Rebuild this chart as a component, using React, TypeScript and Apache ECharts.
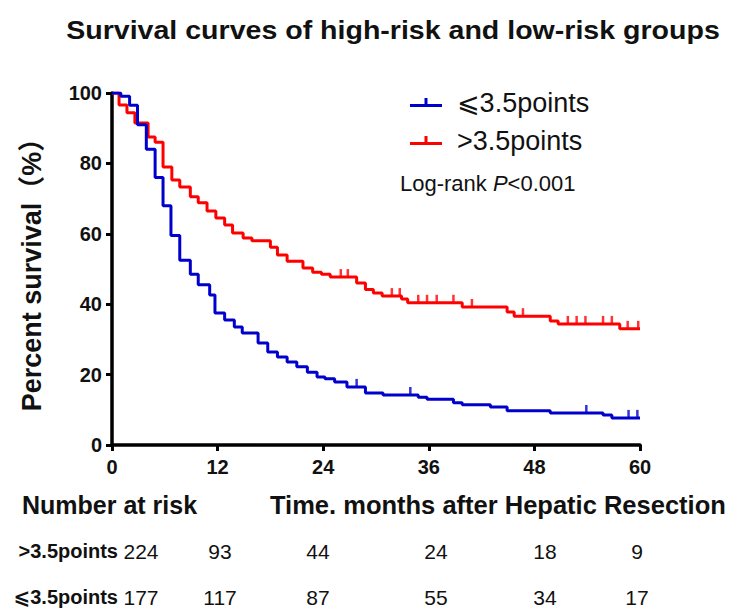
import React, { useEffect, useRef } from "react";
import * as echarts from "echarts";

// ---------- data ----------
const TITLE = "Survival curves of high-risk and low-risk groups";
const LOW_NAME = "⩽3.5points";
const HIGH_NAME = ">3.5points";
const Y_NAME = "Percent survival（%）";
const X_NAME = "Time. months after Hepatic Resection";
const RISK_TITLE = "Number at risk";
const LOGRANK = "Log-rank {i|P}<0.001";

const xTickValues = [0, 12, 24, 36, 48, 60];
const yTickValues = [0, 20, 40, 60, 80, 100];

// ⩽3.5 points (blue)
const lowTimes = [0, 1.0, 2.0, 2.9, 3.9, 4.9, 5.8, 6.7, 7.7, 8.9, 9.8, 11.1, 11.7, 12.8, 13.9, 14.8, 16.6, 17.7, 18.8, 19.9, 21.0, 22.2, 23.3, 24.2, 25.3, 26.7, 28.8, 30.8, 34.8, 35.8, 38.8, 39.8, 43.0, 44.9, 49.8, 55.8, 56.8, 60];
const lowSurvival = [100, 99.1, 96.5, 91, 84, 76, 68, 59.5, 52.5, 48.5, 45.5, 42.6, 37.5, 35.5, 33.5, 31.8, 29, 26.4, 25, 23.6, 22.2, 20.7, 19.3, 18.8, 17.9, 16.5, 14.8, 14.2, 13.6, 13.0, 12.0, 11.4, 10.8, 9.7, 9.1, 8.5, 7.7, 7.7];
const lowCensorTimes = [27.8, 33.9, 53.9, 58.7, 59.7];
const lowCensorSurvival = [16.5, 14.2, 9.1, 7.7, 7.7];

// >3.5 points (red)
const highTimes = [0, 0.8, 1.7, 2.6, 4.1, 4.9, 5.8, 6.8, 7.7, 8.9, 9.8, 10.8, 11.8, 12.8, 13.7, 14.9, 15.9, 18.0, 18.8, 19.9, 21.7, 22.8, 23.8, 24.8, 27.8, 28.8, 29.7, 30.7, 32.9, 33.6, 39.8, 44.9, 45.7, 49.8, 50.7, 57.7, 60];
const highSurvival = [100, 96.6, 94.4, 91.5, 87.5, 86, 79, 75.3, 73.3, 70.5, 68.8, 66.5, 64.5, 62.5, 60.2, 58.8, 58, 56.2, 54, 52.2, 50.3, 49.1, 48.5, 47.7, 46, 44.2, 43.2, 42.3, 41.5, 40.4, 39.2, 37.8, 36.6, 35.2, 34.4, 33, 33];
const highCensorTimes = [26.0, 26.8, 31.8, 32.7, 34.8, 35.8, 36.9, 38.8, 40.9, 46.7, 51.8, 52.8, 53.8, 55.8, 56.8, 58.6, 59.8];
const highCensorSurvival = [47.7, 47.7, 42.3, 42.3, 40.4, 40.4, 40.4, 40.4, 39.2, 36.6, 34.4, 34.4, 34.4, 34.4, 34.4, 33, 33];

// number at risk
const riskHigh = ["224", "93", "44", "24", "18", "9"];
const riskLow = ["177", "117", "87", "55", "34", "17"];

// ---------- layout / style (not data) ----------
const FONT = 'Arial, "Liberation Sans", "DejaVu Sans", "Noto Sans CJK SC", sans-serif';
const BLUE = "#0000CC";
const RED = "#FF0000";
const riskColX = [141, 220, 318, 436, 545, 637];

const zip = (a: number[], b: number[]) => a.map((v, i) => [v, b[i]]);

export default function App() {
  const ref = useRef<HTMLDivElement>(null);

  useEffect(() => {
    document.body.style.margin = "0";
    if (!ref.current) return;
    const chart = echarts.init(ref.current, undefined, { renderer: "svg" });

    const legendIcon =
      "path://M0,6 L32,6 L32,9 L0,9 Z M14.5,0 L17.5,0 L17.5,6 L14.5,6 Z";

    const riskTexts: any[] = [];
    riskHigh.forEach((t, i) =>
      riskTexts.push({
        type: "text",
        x: riskColX[i],
        y: 551,
        style: { text: t, fontSize: 21, fontFamily: FONT, fill: "#111", align: "center", verticalAlign: "middle" },
      })
    );
    riskLow.forEach((t, i) =>
      riskTexts.push({
        type: "text",
        x: riskColX[i],
        y: 597,
        style: { text: t, fontSize: 21, fontFamily: FONT, fill: "#111", align: "center", verticalAlign: "middle" },
      })
    );

    const option: any = {
      animation: false,
      backgroundColor: "#fff",
      grid: { left: 112, right: 91, top: 93, bottom: 164, containLabel: false },
      xAxis: {
        type: "value",
        min: xTickValues[0],
        max: xTickValues[xTickValues.length - 1],
        interval: 12,
        axisLine: { show: true, onZero: false, lineStyle: { color: "#000", width: 3.5 } },
        axisTick: { show: true, length: 6, lineStyle: { color: "#000", width: 3 } },
        axisLabel: { fontSize: 20, fontWeight: "bold", color: "#111", fontFamily: FONT, margin: 12 },
        splitLine: { show: false },
      },
      yAxis: {
        type: "value",
        min: yTickValues[0],
        max: yTickValues[yTickValues.length - 1],
        interval: 20,
        axisLine: { show: true, onZero: false, lineStyle: { color: "#000", width: 3.5 } },
        axisTick: { show: true, length: 6, lineStyle: { color: "#000", width: 3 } },
        axisLabel: { fontSize: 20, fontWeight: "bold", color: "#111", fontFamily: FONT, margin: 10 },
        splitLine: { show: false },
      },
      legend: {
        data: [LOW_NAME, HIGH_NAME],
        orient: "vertical",
        left: 405,
        top: 84,
        itemWidth: 32,
        itemHeight: 9,
        itemGap: 11,
        icon: legendIcon,
        textStyle: { fontSize: 27, lineHeight: 27, color: "#111", fontFamily: FONT, padding: [0, 0, 0, 10] },
      },
      series: [
        {
          name: LOW_NAME,
          type: "line",
          step: "end",
          data: zip(lowTimes, lowSurvival),
          showSymbol: false,
          symbol: "none",
          color: BLUE,
          lineStyle: { color: BLUE, width: 3 },
          z: 3,
        },
        {
          name: HIGH_NAME,
          type: "line",
          step: "end",
          data: zip(highTimes, highSurvival),
          showSymbol: false,
          symbol: "none",
          color: RED,
          lineStyle: { color: RED, width: 3 },
          z: 2,
        },
        {
          name: "lowCensor",
          type: "scatter",
          data: zip(lowCensorTimes, lowCensorSurvival),
          symbol: "rect",
          symbolSize: [2.5, 8],
          symbolOffset: [0, -4],
          itemStyle: { color: BLUE },
          z: 3,
        },
        {
          name: "highCensor",
          type: "scatter",
          data: zip(highCensorTimes, highCensorSurvival),
          symbol: "rect",
          symbolSize: [2.5, 8],
          symbolOffset: [0, -4],
          itemStyle: { color: RED },
          z: 2,
        },
      ],
      graphic: [
        {
          type: "text",
          x: 393,
          y: 30,
          scaleX: 1.12,
          style: { text: TITLE, fontSize: 25.5, fontWeight: "bold", fontFamily: FONT, fill: "#111", align: "center", verticalAlign: "middle" },
        },
        {
          type: "text",
          x: 400,
          y: 183,
          style: {
            text: LOGRANK,
            fontSize: 22,
            fontFamily: FONT,
            fill: "#111",
            align: "left",
            verticalAlign: "middle",
            rich: { i: { fontStyle: "italic", fontSize: 22, fontFamily: FONT, fill: "#111" } },
          },
        },
        {
          type: "text",
          x: 32,
          y: 268,
          rotation: Math.PI / 2,
          style: { text: Y_NAME, fontSize: 27, fontWeight: "bold", fontFamily: FONT, fill: "#111", align: "center", verticalAlign: "middle" },
        },
        {
          type: "text",
          x: 22,
          y: 505,
          style: { text: RISK_TITLE, fontSize: 25, fontWeight: "bold", fontFamily: FONT, fill: "#111", align: "left", verticalAlign: "middle" },
        },
        {
          type: "text",
          x: 270,
          y: 505,
          style: { text: X_NAME, fontSize: 25.5, fontWeight: "bold", fontFamily: FONT, fill: "#111", align: "left", verticalAlign: "middle" },
        },
        {
          type: "text",
          x: 118,
          y: 551,
          style: { text: HIGH_NAME, fontSize: 20, fontWeight: "bold", fontFamily: FONT, fill: "#111", align: "right", verticalAlign: "middle" },
        },
        {
          type: "text",
          x: 118,
          y: 597,
          style: { text: LOW_NAME, fontSize: 20, fontWeight: "bold", fontFamily: FONT, fill: "#111", align: "right", verticalAlign: "middle" },
        },
        ...riskTexts,
      ],
    };

    chart.setOption(option);
    return () => chart.dispose();
  }, []);

  return (
    <div
      ref={ref}
      style={{ position: "absolute", left: 0, top: 0, width: 731, height: 609 }}
    />
  );
}
